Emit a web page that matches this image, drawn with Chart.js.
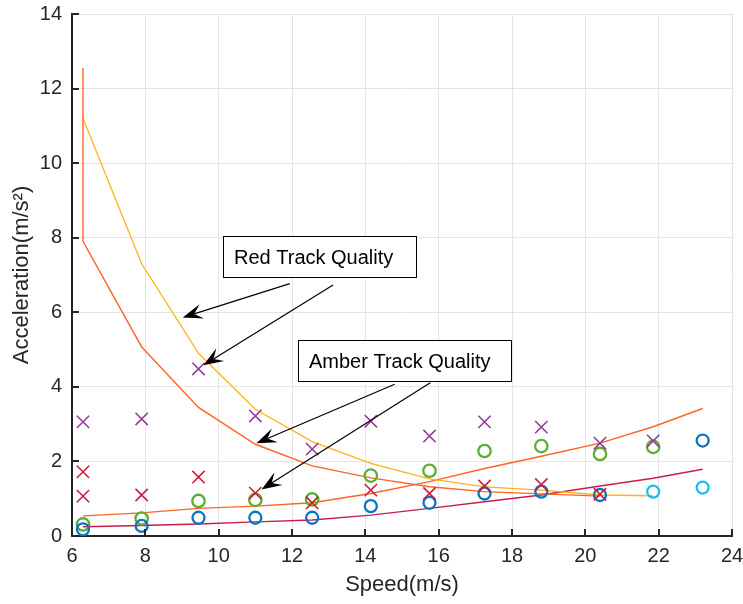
<!DOCTYPE html>
<html><head><meta charset="utf-8">
<script src="https://cdn.jsdelivr.net/npm/chart.js@4"></script>
<style>html,body{margin:0;padding:0;background:#fff;}#wrap{width:743px;height:604px;}</style>
</head><body><div id="wrap"><canvas id="c" width="743" height="604"></canvas></div>
<script>
// ---- data ----
const xTickValues = [6, 8, 10, 12, 14, 16, 18, 20, 22, 24];
const yTickValues = [0, 2, 4, 6, 8, 10, 12, 14];

const purpleXSpeed = [6.3, 7.9, 9.45, 11.0, 12.55, 14.15, 15.75, 17.25, 18.8, 20.4, 21.85];
const purpleXAccel = [3.06, 3.14, 4.48, 3.22, 2.33, 3.08, 2.68, 3.06, 2.92, 2.49, 2.55];

const redXSpeed = [6.3, 6.3, 7.9, 9.45, 11.0, 12.55, 14.15, 15.75, 17.25, 18.8, 20.4];
const redXAccel = [1.72, 1.07, 1.10, 1.58, 1.15, 0.89, 1.23, 1.14, 1.34, 1.38, 1.12];

const greenSpeed = [6.3, 7.9, 9.45, 11.0, 12.55, 14.15, 15.75, 17.25, 18.8, 20.4, 21.85];
const greenAccel = [0.31, 0.47, 0.94, 0.97, 0.98, 1.62, 1.75, 2.28, 2.41, 2.20, 2.39];

const blueSpeed = [6.3, 7.9, 9.45, 11.0, 12.55, 14.15, 15.75, 17.25, 18.8, 20.4, 23.2];
const blueAccel = [0.18, 0.27, 0.49, 0.49, 0.49, 0.80, 0.89, 1.14, 1.19, 1.10, 2.56];

const cyanSpeed = [21.85, 23.2];
const cyanAccel = [1.19, 1.30];

const orangeDecSpeed = [6.3, 6.3, 7.9, 9.45, 11.0, 12.55, 14.15, 15.75, 17.25, 18.8, 20.4];
const orangeDecAccel = [12.55, 7.9, 5.07, 3.45, 2.46, 1.88, 1.56, 1.32, 1.19, 1.13, 1.07];

const yellowSpeed = [6.3, 7.9, 9.45, 11.0, 12.55, 14.15, 15.75, 17.25, 18.8, 20.4, 21.85];
const yellowAccel = [11.2, 7.3, 4.9, 3.4, 2.53, 1.95, 1.53, 1.32, 1.23, 1.10, 1.08];

const incSpeed = [6.3, 7.9, 9.45, 11.0, 12.55, 14.15, 15.75, 17.25, 18.8, 20.4, 21.85, 23.2];
const orangeIncAccel = [0.54, 0.62, 0.74, 0.80, 0.89, 1.14, 1.46, 1.81, 2.14, 2.49, 2.93, 3.42];
const crimsonIncAccel = [0.25, 0.28, 0.32, 0.38, 0.43, 0.56, 0.74, 0.92, 1.10, 1.34, 1.55, 1.79];

const annotationTexts = ['Red Track Quality', 'Amber Track Quality'];

// ---- annotation placement (data coordinates) ----
const annotationCfg = {
  boxes: [
    {label: 0, x1: 10.12, x2: 15.39, yTop: 8.04, yBot: 6.94},
    {label: 1, x1: 12.17, x2: 17.98, yTop: 5.27, yBot: 4.16}
  ],
  arrows: [
    {from: [11.94, 6.77], to: [9.02, 5.86]},
    {from: [13.12, 6.73], to: [9.58, 4.58]},
    {from: [14.80, 4.07], to: [11.03, 2.49]},
    {from: [15.77, 4.11], to: [11.17, 1.25]}
  ]
};

const FONT = "'Liberation Sans', Arial, Helvetica, sans-serif";
const pts = (xs, ys) => xs.map((x, i) => ({x: x, y: ys[i]}));

function lineDs(xs, ys, color, w) {
  return {data: pts(xs, ys), showLine: true, borderColor: color, borderWidth: w,
    pointRadius: 0, fill: false, tension: 0};
}
function markDs(xs, ys, color, style, r, bw) {
  return {data: pts(xs, ys), showLine: false, pointStyle: style, pointRadius: r,
    pointBorderColor: color, pointBackgroundColor: 'rgba(0,0,0,0)', pointBorderWidth: bw};
}

const annotPlugin = {
  id: 'annot',
  afterDatasetsDraw(chart) {
    const ctx = chart.ctx, xs = chart.scales.x, ys = chart.scales.y;
    const ca = chart.chartArea;
    ctx.save();
    // inward ticks
    ctx.strokeStyle = '#262626'; ctx.lineWidth = 2;
    xTickValues.forEach(v => {
      const px = Math.round(xs.getPixelForValue(v));
      ctx.beginPath(); ctx.moveTo(px, ca.bottom); ctx.lineTo(px, ca.bottom - 7); ctx.stroke();
    });
    yTickValues.forEach(v => {
      const py = Math.round(ys.getPixelForValue(v));
      ctx.beginPath(); ctx.moveTo(ca.left, py); ctx.lineTo(ca.left + 7, py); ctx.stroke();
    });
    // arrows
    annotationCfg.arrows.forEach(a => {
      const x0 = xs.getPixelForValue(a.from[0]), y0 = ys.getPixelForValue(a.from[1]);
      const x1 = xs.getPixelForValue(a.to[0]), y1 = ys.getPixelForValue(a.to[1]);
      const dx = x1 - x0, dy = y1 - y0, len = Math.hypot(dx, dy);
      const ux = dx / len, uy = dy / len, nx = -uy, ny = ux;
      const L = 20, W = 7.5, N = 0.6 * L;
      ctx.strokeStyle = '#000'; ctx.lineWidth = 1.2;
      ctx.beginPath(); ctx.moveTo(x0, y0); ctx.lineTo(x1 - ux * N, y1 - uy * N); ctx.stroke();
      ctx.fillStyle = '#000';
      ctx.beginPath();
      ctx.moveTo(x1, y1);
      ctx.lineTo(x1 - ux * L + nx * W, y1 - uy * L + ny * W);
      ctx.lineTo(x1 - ux * N, y1 - uy * N);
      ctx.lineTo(x1 - ux * L - nx * W, y1 - uy * L - ny * W);
      ctx.closePath(); ctx.fill();
    });
    // boxes
    annotationCfg.boxes.forEach(b => {
      const l = Math.round(xs.getPixelForValue(b.x1)) + 0.5, r = Math.round(xs.getPixelForValue(b.x2)) + 0.5;
      const t = Math.round(ys.getPixelForValue(b.yTop)) + 0.5, bt = Math.round(ys.getPixelForValue(b.yBot)) + 0.5;
      ctx.fillStyle = '#fff'; ctx.fillRect(l, t, r - l, bt - t);
      ctx.strokeStyle = '#000'; ctx.lineWidth = 1; ctx.strokeRect(l, t, r - l, bt - t);
      ctx.fillStyle = '#000'; ctx.font = '20px ' + FONT; ctx.textBaseline = 'middle'; ctx.textAlign = 'left';
      ctx.fillText(annotationTexts[b.label], l + 10.5, (t + bt) / 2 + 1);
    });
    ctx.restore();
  }
};

function zeroPad(s) { s.paddingLeft = 0; s.paddingRight = 0; s.paddingTop = 0; s.paddingBottom = 0; }

new Chart(document.getElementById('c'), {
  type: 'scatter',
  data: {
    datasets: [
      markDs(purpleXSpeed, purpleXAccel, '#943C9A', 'crossRot', 8.7, 1.6),
      markDs(redXSpeed, redXAccel, '#CC1C3C', 'crossRot', 8.7, 1.6),
      markDs(blueSpeed, blueAccel, '#0C74C4', 'circle', 6, 2.3),
      markDs(cyanSpeed, cyanAccel, '#1EBCEF', 'circle', 6, 2.3),
      markDs(greenSpeed, greenAccel, '#5AAE32', 'circle', 6.2, 2.3),
      lineDs(orangeDecSpeed, orangeDecAccel, '#FF6426', 1.4),
      lineDs(yellowSpeed, yellowAccel, '#FDB415', 1.3),
      lineDs(incSpeed, orangeIncAccel, '#FF6426', 1.4),
      lineDs(incSpeed, crimsonIncAccel, '#C81E46', 1.4)
    ]
  },
  options: {
    responsive: false, animation: false, devicePixelRatio: 1,
    layout: {padding: {top: 14, right: 11, left: 0, bottom: 0}},
    plugins: {legend: {display: false}, tooltip: {enabled: false}},
    scales: {
      x: {
        type: 'linear', min: 6, max: 24,
        afterBuildTicks: s => { s.ticks = xTickValues.map(v => ({value: v})); },
        grid: {color: '#e4e4e4', lineWidth: 1, drawTicks: false},
        border: {display: true, color: '#262626', width: 2},
        ticks: {font: {family: FONT, size: 20}, color: '#262626', padding: 8, maxRotation: 0, autoSkip: false},
        title: {display: true, text: 'Speed(m/s)', font: {family: FONT, size: 22}, color: '#262626', padding: {top: 0, bottom: 6}},
        afterFit: s => { s.height = 68; zeroPad(s); }
      },
      y: {
        type: 'linear', min: 0, max: 14,
        afterBuildTicks: s => { s.ticks = yTickValues.map(v => ({value: v})); },
        grid: {color: '#e4e4e4', lineWidth: 1, drawTicks: false},
        border: {display: true, color: '#262626', width: 2},
        ticks: {font: {family: FONT, size: 20}, color: '#262626', padding: 10, autoSkip: false},
        title: {display: true, text: 'Acceleration(m/s\u00B2)', font: {family: FONT, size: 22}, color: '#262626', padding: {top: 9, bottom: 0}},
        afterFit: s => { s.width = 72; zeroPad(s); }
      }
    }
  },
  plugins: [annotPlugin]
});
</script></body></html>
